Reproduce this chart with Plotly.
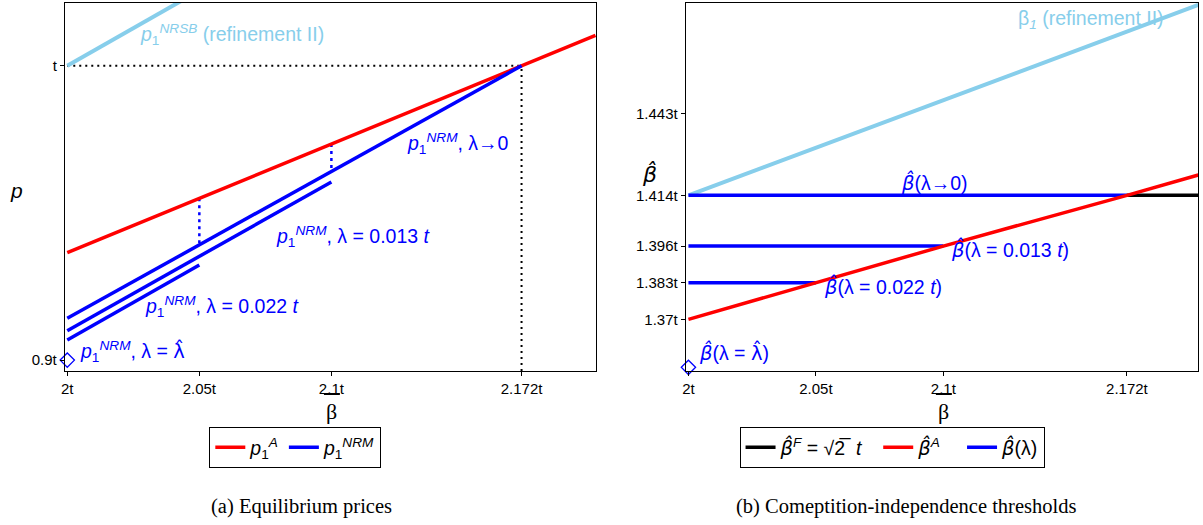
import plotly.graph_objects as go

W, H = 1203, 525

# ---------------- data (panel a: equilibrium prices) ----------------
beta_pA = [2.0, 2.05, 2.1, 2.172, 2.2]
p_A = [0.9365, 0.9550, 0.9734, 1.0, 1.0103]

beta_nrm0 = [2.0, 2.05, 2.1, 2.172]
p_nrm0 = [0.9142, 0.9392, 0.9641, 1.0]

beta_nrm013 = [2.0, 2.1]
p_nrm013 = [0.9100, 0.9605]

beta_nrm022 = [2.0, 2.05]
p_nrm022 = [0.9068, 0.9323]

beta_nrsb = [2.0, 2.1]
p_nrsb = [1.0, 1.051]

p_hat_point = (2.0, 0.9)
beta_star = 2.172
p_star = 1.0

# ---------------- data (panel b: thresholds) ----------------
beta_bA = [2.0, 2.05, 2.1, 2.172, 2.2]
b_A = [1.370, 1.383, 1.396, 1.414, 1.4212]

beta_b0 = [2.0, 2.172]
b_0 = [1.414, 1.414]

beta_b013 = [2.0, 2.1]
b_013 = [1.396, 1.396]

beta_b022 = [2.0, 2.05]
b_022 = [1.383, 1.383]

beta_bF = [2.172, 2.2]
b_F = [1.414, 1.414]

beta_b1 = [2.0, 2.2]
b_1 = [1.414, 1.4815]

b_hat_point = (2.0, 1.353)

x_ticks = [2.0, 2.05, 2.1, 2.172]
x_ticktext = ["2t", "2.05t", "2.1t", "2.172t"]
yl_ticks = [0.9, 1.0]
yl_ticktext = ["0.9t", "t"]
yr_ticks = [1.37, 1.383, 1.396, 1.414, 1.443]
yr_ticktext = ["1.37t", "1.383t", "1.396t", "1.414t", "1.443t"]

xl_range = [1.99906, 2.2002]
yl_range = [0.8963, 1.0213]
xr_range = [1.99894, 2.1999]
yr_range = [1.3517, 1.4822]

RED = "#FF0000"
BLUE = "#0000FF"
SKY = "#87CEEB"
LW = 3.5

BH = "<span style='font-family:DejaVu Sans'><i>β̂</i></span>"
LH = "<span style='font-family:DejaVu Sans'>λ̂</span>"

fig = go.Figure()

def line(x, y, color, xa, ya, name=None, show=False, legend="legend", dash=None, width=LW, rank=None):
    d = dict(color=color, width=width)
    if dash:
        d["dash"] = dash
    kw = {}
    if rank is not None:
        kw["legendrank"] = rank
    fig.add_trace(go.Scatter(x=x, y=y, mode="lines", line=d, xaxis=xa, yaxis=ya,
                             name=name, showlegend=show, legend=legend, hoverinfo="skip", **kw))

# panel a
line([beta_pA[0], beta_star], [p_star, p_star], "black", "x", "y", dash="2px,4px", width=2)
line([beta_star, beta_star], [yl_range[0], p_star], "black", "x", "y", dash="2px,4px", width=2)
line([beta_nrm0[1], beta_nrm0[1]], [p_A[1], p_nrm0[1]], BLUE, "x", "y", dash="3px,4px", width=2.5)
line([beta_nrm0[2], beta_nrm0[2]], [p_A[2], p_nrm0[2]], BLUE, "x", "y", dash="3px,4px", width=2.5)
line(beta_nrsb, p_nrsb, SKY, "x", "y", width=4)
line(beta_pA, p_A, RED, "x", "y", name="<i>p</i><sub>1</sub><sup><i>A</i></sup>", show=True)
line(beta_nrm0, p_nrm0, BLUE, "x", "y", name="<i>p</i><sub>1</sub><sup><i>NRM</i></sup>", show=True)
line(beta_nrm013, p_nrm013, BLUE, "x", "y")
line(beta_nrm022, p_nrm022, BLUE, "x", "y")
fig.add_trace(go.Scatter(x=[p_hat_point[0]], y=[p_hat_point[1]], mode="markers",
                         marker=dict(symbol="diamond-open", size=11, color=BLUE, line=dict(width=1.3)),
                         xaxis="x", yaxis="y", showlegend=False, cliponaxis=False, hoverinfo="skip"))

# panel b
line(beta_b1, b_1, SKY, "x2", "y2", width=4)
line(beta_b0, b_0, BLUE, "x2", "y2", name=BH + "(λ)", show=True, legend="legend2", rank=3)
line(beta_b013, b_013, BLUE, "x2", "y2")
line(beta_b022, b_022, BLUE, "x2", "y2")
line(beta_bF, b_F, "black", "x2", "y2", name=BH + "<sup><i>F</i></sup> = √2̅  <i>t</i>  ", show=True,
     legend="legend2", rank=1)
line(beta_bA, b_A, RED, "x2", "y2", name=BH + "<sup><i>A</i></sup>   ", show=True, legend="legend2", rank=2)
fig.add_trace(go.Scatter(x=[b_hat_point[0]], y=[b_hat_point[1]], mode="markers",
                         marker=dict(symbol="diamond-open", size=11, color=BLUE, line=dict(width=1.3)),
                         xaxis="x2", yaxis="y2", showlegend=False, cliponaxis=False, hoverinfo="skip"))

sans = "Liberation Sans, Arial, sans-serif"
serif = "Liberation Serif, Times New Roman, serif"

tickfont = dict(family=sans, size=15, color="black")
axis_common = dict(showline=True, linecolor="black", linewidth=1, mirror=True, ticks="outside",
                   ticklen=4, tickcolor="black", tickfont=tickfont, showgrid=False, zeroline=False)

legfont = dict(family=sans, size=19.5, color="black")

fig.update_layout(
    width=W, height=H, margin=dict(l=0, r=0, t=0, b=0),
    paper_bgcolor="white", plot_bgcolor="white",
    xaxis=dict(domain=[61 / W, 594 / W], range=xl_range, tickvals=x_ticks, ticktext=x_ticktext,
               anchor="y", **axis_common),
    yaxis=dict(domain=[1 - 371 / H, 1 - 3 / H], range=yl_range, tickvals=yl_ticks, ticktext=yl_ticktext,
               anchor="x", **axis_common),
    xaxis2=dict(domain=[684 / W, 1198 / W], range=xr_range, tickvals=x_ticks, ticktext=x_ticktext,
                anchor="y2", **axis_common),
    yaxis2=dict(domain=[1 - 371 / H, 1 - 3 / H], range=yr_range, tickvals=yr_ticks, ticktext=yr_ticktext,
                anchor="x2", **axis_common),
    legend=dict(x=206 / W, y=1 - 427 / H, xanchor="left", yanchor="top", orientation="h",
                bordercolor="black", borderwidth=1, bgcolor="white", font=legfont,
                itemwidth=30, tracegroupgap=0),
    legend2=dict(x=738 / W, y=1 - 427 / H, xanchor="left", yanchor="top", orientation="h",
                 bordercolor="black", borderwidth=1, bgcolor="white", font=legfont,
                 itemwidth=30, tracegroupgap=0, traceorder="normal"),
)

def ann(text, px, py, color, size=19.5, xanchor="left", family=sans):
    fig.add_annotation(text=text, x=px / W, y=1 - py / H, xref="paper", yref="paper",
                       xanchor=xanchor, yanchor="middle", showarrow=False,
                       font=dict(family=family, size=size, color=color))

# panel a labels
ann("<i>p</i><sub>1</sub><sup><i>NRSB</i></sup> (refinement II)", 134, 35, SKY)
ann("<i>p</i><sub>1</sub><sup><i>NRM</i></sup>, λ→0", 402, 143, BLUE)
ann("<i>p</i><sub>1</sub><sup><i>NRM</i></sup>, λ = 0.013 <i>t</i>", 271, 236, BLUE)
ann("<i>p</i><sub>1</sub><sup><i>NRM</i></sup>, λ = 0.022 <i>t</i>", 139, 306, BLUE)
ann("<i>p</i><sub>1</sub><sup><i>NRM</i></sup>, λ = " + LH, 74, 351, BLUE)

# panel b labels
ann("β<sub><i>1</i></sub> (refinement II)", 1015, 20, SKY)
ann(BH + "(λ→0)", 898, 183, BLUE)
ann(BH + "(λ = 0.013 <i>t</i>)", 948, 249, BLUE)
ann(BH + "(λ = 0.022 <i>t</i>)", 821, 286, BLUE)
ann(BH + "(λ = " + LH + ")", 695, 352, BLUE)

# axis titles
ann("<i>p</i>", 13, 190, "black", size=21, xanchor="center")
ann("<i>β̂</i>", 648, 174, "black", size=22, xanchor="center", family="DejaVu Sans")
ann("β", 329, 411, "black", size=22, xanchor="center", family=serif)
ann("β", 943, 411, "black", size=22, xanchor="center", family=serif)

# overbars of beta-bar
for x0, x1 in [(321, 337), (935, 951)]:
    fig.add_shape(type="line", xref="paper", yref="paper", x0=x0 / W, x1=x1 / W,
                  y0=1 - 394 / H, y1=1 - 394 / H, line=dict(color="black", width=2))

# captions
ann("(a) Equilibrium prices", 298, 506, "black", size=20.5, xanchor="center", family=serif)
ann("(b) Comeptition-independence thresholds", 905, 506, "black", size=20.5, xanchor="center", family=serif)

fig.write_html("out.html", config={"displayModeBar": False},
               post_script="document.body.style.margin='0px';")
